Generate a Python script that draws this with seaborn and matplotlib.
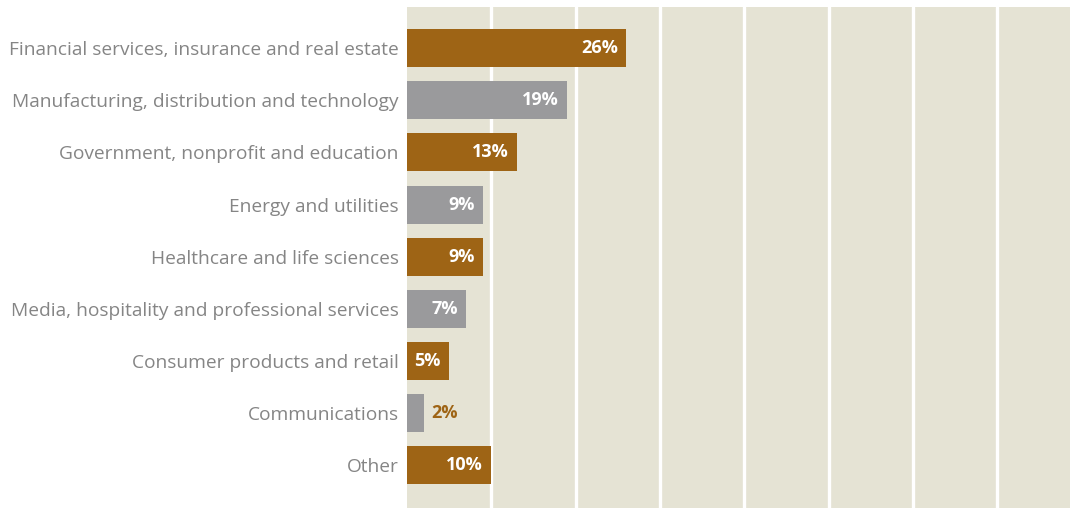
import matplotlib
matplotlib.use("Agg")
import matplotlib.pyplot as plt
import seaborn as sns
import pandas as pd

categories = [
    "Financial services, insurance and real estate",
    "Manufacturing, distribution and technology",
    "Government, nonprofit and education",
    "Energy and utilities",
    "Healthcare and life sciences",
    "Media, hospitality and professional services",
    "Consumer products and retail",
    "Communications",
    "Other",
]
shares = [26, 19, 13, 9, 9, 7, 5, 2, 10]
value_labels = ["26%", "19%", "13%", "9%", "9%", "7%", "5%", "2%", "10%"]

BROWN = "#9E6415"
GREY = "#9A9A9C"
BG = "#E5E3D4"
TEXT = "#858585"

colors = [BROWN if i % 2 == 0 else GREY for i in range(len(categories))]

df = pd.DataFrame({"category": categories, "share": shares})

sns.set_theme(style="white")
plt.rcParams["font.family"] = ["Open Sans", "DejaVu Sans"]

fig = plt.figure(figsize=(10.7, 5.08), dpi=100)
ax = fig.add_axes([0.3804, 0.0, 0.6196, 0.9862])
ax.set_facecolor(BG)

sns.barplot(
    data=df, y="category", x="share", hue="category",
    palette=colors, orient="h", width=0.73, legend=False, ax=ax,
    saturation=1, linewidth=0,
)

ax.set_xlim(0, 78.6)
ax.set_ylim(8.82, -0.79)
ax.set_xticks(range(10, 80, 10))
ax.set_xticklabels([])
ax.xaxis.grid(True, color="white", linewidth=2.4)
ax.set_axisbelow(True)
for s in ax.spines.values():
    s.set_visible(False)
ax.tick_params(axis="both", length=0)
ax.tick_params(axis="y", pad=6, labelsize=13.8, labelcolor=TEXT)
ax.set_xlabel("")
ax.set_ylabel("")

for i, (v, lab) in enumerate(zip(shares, value_labels)):
    if v >= 4:
        ax.text(v - 1.0, i, lab, ha="right", va="center", color="white",
                fontsize=13, fontweight="bold")
    else:
        ax.text(v + 0.9, i, lab, ha="left", va="center", color=BROWN,
                fontsize=13, fontweight="bold")

fig.savefig("out.png", dpi=100, facecolor="white")
